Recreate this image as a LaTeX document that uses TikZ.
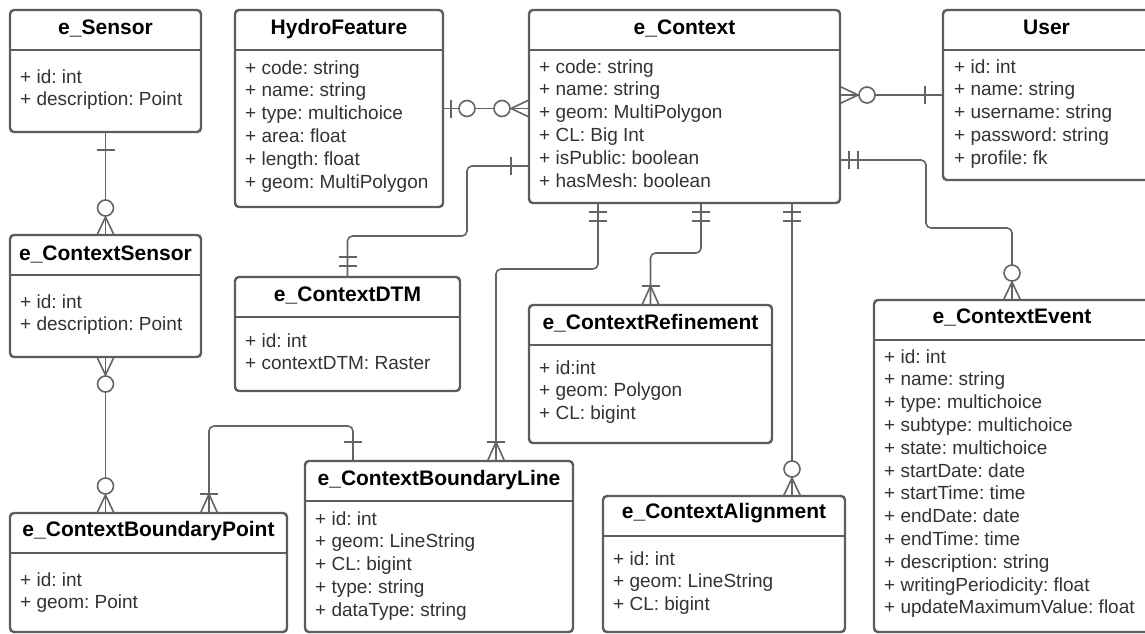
\documentclass[tikz,border=0pt]{standalone}
\usepackage{fontspec}
\setmainfont{Liberation Sans}
\definecolor{boxgray}{RGB}{92,92,92}
\definecolor{linkgray}{RGB}{100,100,100}
\definecolor{attrgray}{RGB}{51,51,51}
\usetikzlibrary{calc, decorations.markings}

\begin{document}
\begin{tikzpicture}[x=1pt, y=-1pt,
    box/.style={draw=boxgray, line width=2.4pt, rounded corners=4pt, fill=white, anchor=north west,
      inner sep=0pt, outer sep=0pt,
      path picture={\draw[boxgray, line width=2.4pt] ([yshift=-40pt]path picture bounding box.north west) -- ([yshift=-40pt]path picture bounding box.north east);}},
    enttitle/.style={font=\bfseries\fontsize{21}{25}\selectfont, anchor=base, inner sep=0pt},
    entattr/.style={font=\fontsize{19}{22.8}\selectfont\frenchspacing, text=attrgray, align=left, anchor=north west, inner sep=0pt},
    link/.style={draw=linkgray, line width=1.6pt, rounded corners=5pt},
    erpen/.style={draw=linkgray, line width=1.6pt, sharp corners},
    one at start/.style={postaction={decorate, decoration={markings,
      mark=at position 18pt with {\draw[erpen] (0pt,-9pt) -- (0pt,9pt);}}}},
    one at end/.style={postaction={decorate, decoration={markings,
      mark=at position -19pt with {\draw[erpen] (0pt,-9pt) -- (0pt,9pt);}}}},
    only at start/.style={postaction={decorate, decoration={markings,
      mark=at position 9pt with {\draw[erpen] (0pt,-9pt) -- (0pt,9pt);},
      mark=at position 18pt with {\draw[erpen] (0pt,-9pt) -- (0pt,9pt);}}}},
    only at end/.style={postaction={decorate, decoration={markings,
      mark=at position -20pt with {\draw[erpen] (0pt,-9pt) -- (0pt,9pt);},
      mark=at position -11pt with {\draw[erpen] (0pt,-9pt) -- (0pt,9pt);}}}},
    zone at start/.style={postaction={decorate, decoration={markings,
      mark=at position 8pt with {\draw[erpen] (0pt,-9pt) -- (0pt,9pt);},
      mark=at position 24pt with {\draw[erpen, fill=white] (0pt,0pt) circle[radius=8pt];}}}},
    zmany at start/.style={postaction={decorate, decoration={markings,
      mark=at position 18pt with {\draw[erpen] (-18pt,-8.5pt) -- (0pt,0pt) -- (-18pt,8.5pt);},
      mark=at position 27pt with {\draw[erpen, fill=white] (0pt,0pt) circle[radius=8pt];}}}},
    zmany at end/.style={postaction={decorate, decoration={markings,
      mark=at position -27pt with {\draw[erpen, fill=white] (0pt,0pt) circle[radius=8pt];},
      mark=at position -18pt with {\draw[erpen] (18pt,-8.5pt) -- (0pt,0pt) -- (18pt,8.5pt);}}}},
    omany at start/.style={postaction={decorate, decoration={markings,
      mark=at position 19pt with {\draw[erpen] (-19pt,-8.5pt) -- (0pt,0pt) -- (-19pt,8.5pt); \draw[erpen] (0pt,-9pt) -- (0pt,9pt);}}}},
    omany at end/.style={postaction={decorate, decoration={markings,
      mark=at position -19pt with {\draw[erpen] (19pt,-8.5pt) -- (0pt,0pt) -- (19pt,8.5pt); \draw[erpen] (0pt,-9pt) -- (0pt,9pt);}}}}]
  \useasboundingbox (0,0) rectangle (1145,633);

  \node[box, minimum width=191pt, minimum height=122pt] (sensor) at (10,10) {};
  \node[enttitle] (sensor-t) at ($(sensor.north)+(0,24)$) {e\_Sensor};
  \node[entattr] (sensor-a) at ($(sensor.north west)+(10,57)$) {\strut+ id: int\\+ description: Point};

  \node[box, minimum width=208pt, minimum height=197pt] (hydro) at (235,10) {};
  \node[enttitle] (hydro-t) at ($(hydro.north)+(0,24)$) {HydroFeature};
  \node[entattr] (hydro-a) at ($(hydro.north west)+(10,48)$) {\strut+ code: string\\+ name: string\\+ type: multichoice\\+ area: float\\+ length: float\\+ geom: MultiPolygon};

  \node[box, minimum width=311pt, minimum height=193pt] (context) at (529,10) {};
  \node[enttitle] (context-t) at ($(context.north)+(0,24)$) {e\_Context};
  \node[entattr] (context-a) at ($(context.north west)+(10,47)$) {\strut+ code: string\\+ name: string\\+ geom: MultiPolygon\\+ CL: Big Int\\+ isPublic: boolean\\+ hasMesh: boolean};

  \node[box, minimum width=207pt, minimum height=170pt] (user) at (943,10) {};
  \node[enttitle] (user-t) at ($(user.north)+(0,24)$) {User};
  \node[entattr] (user-a) at ($(user.north west)+(11,47)$) {\strut+ id: int\\+ name: string\\+ username: string\\+ password: string\\+ profile: fk};

  \node[box, minimum width=191pt, minimum height=122pt] (ctxsensor) at (10,235) {};
  \node[enttitle] (ctxsensor-t) at ($(ctxsensor.north)+(0,25)$) {e\_ContextSensor};
  \node[entattr] (ctxsensor-a) at ($(ctxsensor.north west)+(10,57)$) {\strut+ id: int\\+ description: Point};

  \node[box, minimum width=225pt, minimum height=114pt] (dtm) at (235,277) {};
  \node[enttitle] (dtm-t) at ($(dtm.north)+(0,24)$) {e\_ContextDTM};
  \node[entattr] (dtm-a) at ($(dtm.north west)+(10,54)$) {\strut+ id: int\\+ contextDTM: Raster};

  \node[box, minimum width=243pt, minimum height=138pt] (refine) at (529,305) {};
  \node[enttitle] (refine-t) at ($(refine.north)+(0,24)$) {e\_ContextRefinement};
  \node[entattr] (refine-a) at ($(refine.north west)+(10,53)$) {\strut+ id:int\\+ geom: Polygon\\+ CL: bigint};

  \node[box, minimum width=276pt, minimum height=332pt] (event) at (874,300) {};
  \node[enttitle] (event-t) at ($(event.north)+(0,23)$) {e\_ContextEvent};
  \node[entattr] (event-a) at ($(event.north west)+(10,47)$) {\strut+ id: int\\+ name: string\\+ type: multichoice\\+ subtype: multichoice\\+ state: multichoice\\+ startDate: date\\+ startTime: time\\+ endDate: date\\+ endTime: time\\+ description: string\\+ writingPeriodicity: float\\+ updateMaximumValue: float};

  \node[box, minimum width=277pt, minimum height=119pt] (bpoint) at (10,513) {};
  \node[enttitle] (bpoint-t) at ($(bpoint.north)+(0,23)$) {e\_ContextBoundaryPoint};
  \node[entattr] (bpoint-a) at ($(bpoint.north west)+(10,57)$) {\strut+ id: int\\+ geom: Point};

  \node[box, minimum width=268pt, minimum height=171pt] (bline) at (305,461) {};
  \node[enttitle] (bline-t) at ($(bline.north)+(0,24)$) {e\_ContextBoundaryLine};
  \node[entattr] (bline-a) at ($(bline.north west)+(10,48)$) {\strut+ id: int\\+ geom: LineString\\+ CL: bigint\\+ type: string\\+ dataType: string};

  \node[box, minimum width=242pt, minimum height=136pt] (align) at (603,496) {};
  \node[enttitle] (align-t) at ($(align.north)+(0,22)$) {e\_ContextAlignment};
  \node[entattr] (align-a) at ($(align.north west)+(10,53)$) {\strut+ id: int\\+ geom: LineString\\+ CL: bigint};

  \draw[link, one at start, zmany at end] (sensor.south) -- (ctxsensor.north);
  \draw[link, zone at start, zmany at end] (hydro.east) -- (hydro.east -| context.west);
  \draw[link, one at start, zmany at end] (user.west) -- (user.west -| context.east);
  \draw[link, only at start, zmany at end] ($(context.north east)+(0,150)$) -- ++(86,0) -- ++(0,68) -| (event.north);
  \draw[link, one at start, only at end] ($(context.north west)+(0,156)$) -- ++(-62,0) -- ++(0,70) -| (dtm.north);
  \draw[link, only at start, omany at end] ($(context.south west)+(69,0)$) -- ++(0,66) -| ($(bline.north west)+(191,0)$);
  \draw[link, only at start, omany at end] ($(context.south west)+(172,0)$) -- ++(0,50) -| (refine.north);
  \draw[link, only at start, zmany at end] ($(context.south west)+(263,0)$) -- ($(align.north west)+(189,0)$);
  \draw[link, zmany at start, zmany at end] (ctxsensor.south) -- (ctxsensor.south |- bpoint.north);
  \draw[link, omany at start, one at end] ($(bpoint.north west)+(199,0)$) -- ++(0,-87) -| ($(bline.north west)+(48,0)$);
\end{tikzpicture}
\end{document}
